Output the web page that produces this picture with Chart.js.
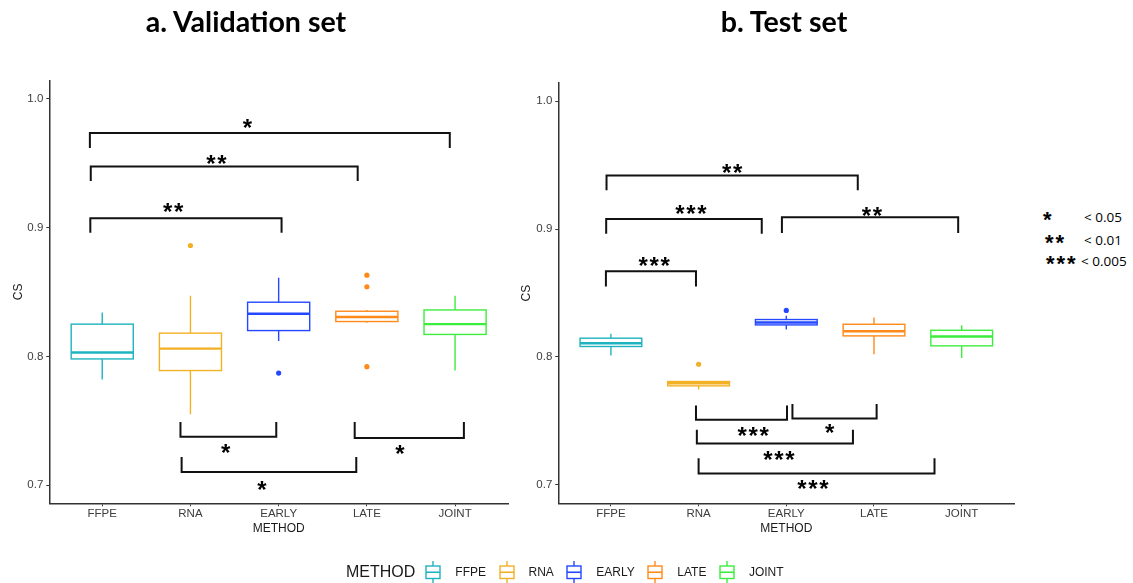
<!DOCTYPE html>
<html><head><meta charset="utf-8">
<script src="https://cdn.jsdelivr.net/npm/chart.js@4/dist/chart.umd.min.js"></script>
<style>
html,body{margin:0;padding:0;background:#fff;}
body{width:1133px;height:583px;position:relative;overflow:hidden;font-family:"Liberation Sans",Arial,sans-serif;}
canvas{position:absolute;top:0;}
#c1{left:0;}
#c2{left:505px;}
.ptitle{position:absolute;top:3px;font-family:Lato,"Open Sans",sans-serif;font-weight:700;font-size:28.6px;line-height:36px;color:#000;white-space:nowrap;transform:translateX(-50%);}
#legend{position:absolute;left:346px;top:561px;height:22px;display:flex;align-items:center;white-space:nowrap;}
#legend .lt{font-size:16px;color:#1a1a1a;margin-right:10px;}
#legend svg{display:block;margin-right:14px;}
#legend .li{font-size:12px;color:#1a1a1a;margin-right:12.5px;}
.key{position:absolute;white-space:nowrap;}
.kstar{font-family:"Liberation Sans";font-weight:700;font-size:22px;letter-spacing:2px;line-height:22px;}
.ktext{font-family:"Open Sans";font-size:13.5px;line-height:16px;color:#000;}
</style></head>
<body>
<canvas id="c1" width="515" height="583"></canvas>
<canvas id="c2" width="515" height="583"></canvas>
<div class="ptitle" id="t1" style="left:246px;">a. Validation set</div>
<div class="ptitle" id="t2" style="left:784px;">b. Test set</div>
<div id="legend"></div>
<div id="keybox"></div>
<script>
const categories = ['FFPE','RNA','EARLY','LATE','JOINT'];
const colors = ['#1fb3bf','#f2b124','#2448ff','#ff8a1a','#3ded3d'];
const yTicks = [0.7, 0.8, 0.9, 1.0];

// a. Validation set
const valWhiskerLow  = [0.782, 0.755, 0.812, 0.826, 0.789];
const valQ1          = [0.798, 0.789, 0.820, 0.827, 0.817];
const valMedian      = [0.803, 0.806, 0.833, 0.8305, 0.825];
const valQ3          = [0.825, 0.818, 0.842, 0.835, 0.836];
const valWhiskerHigh = [0.834, 0.847, 0.861, 0.836, 0.847];
const valOutlierCat  = [1, 2, 3, 3, 3];
const valOutlierVal  = [0.886, 0.787, 0.863, 0.854, 0.792];
const valBracketFrom  = [-0.14, -0.13, -0.135, 0.887, 2.862, 0.90];
const valBracketTo    = [3.94, 2.896, 2.033, 1.973, 4.10, 2.88];
const valBracketBar   = [0.9733, 0.9473, 0.9072, 0.7377, 0.7367, 0.7103];
const valBracketEnd   = [0.9617, 0.9361, 0.8958, 0.749, 0.749, 0.722];
const valBracketStars = [1, 2, 2, 1, 1, 1];
const valLabelX       = [1.645, 1.294, 0.803, 1.399, 3.376, 1.81];
const valLabelY       = [0.9804, 0.9527, 0.9155, 0.7284, 0.7281, 0.6998];

// b. Test set
const testWhiskerLow  = [0.801, 0.7744, 0.8214, 0.802, 0.7992];
const testQ1          = [0.8081, 0.7773, 0.825, 0.8164, 0.8086];
const testMedian      = [0.8107, 0.7793, 0.8269, 0.820, 0.8159];
const testQ3          = [0.8146, 0.7807, 0.8292, 0.8255, 0.8208];
const testWhiskerHigh = [0.818, 0.7812, 0.8321, 0.8308, 0.8248];
const testOutlierCat  = [1, 2];
const testOutlierVal  = [0.7942, 0.8363];
const testBracketFrom  = [-0.05, -0.054, 1.95, -0.057, 0.97, 2.07, 0.98, 1.0];
const testBracketTo    = [2.815, 1.72, 3.96, 0.97, 2.008, 3.03, 2.76, 3.69];
const testBracketBar   = [0.942, 0.9078, 0.9092, 0.867, 0.7507, 0.7517, 0.7321, 0.7088];
const testBracketEnd   = [0.9303, 0.8964, 0.8969, 0.855, 0.7619, 0.7632, 0.743, 0.7206];
const testBracketStars = [2, 3, 2, 3, 3, 1, 3, 3];
const testLabelX       = [1.382, 0.911, 2.976, 0.493, 1.621, 2.494, 1.917, 2.304];
const testLabelY       = [0.9472, 0.9151, 0.914, 0.8749, 0.7415, 0.7436, 0.7227, 0.6998];

const keyStars = ['*', '**', '***'];
const keyLabels = ['< 0.05', '< 0.01', '< 0.005'];

function drawStars(ctx, cx, cy, n) {
  ctx.save();
  ctx.font = 'bold 24px "Liberation Sans"';
  ctx.fillStyle = '#000';
  ctx.textAlign = 'center';
  ctx.textBaseline = 'alphabetic';
  const m = ctx.measureText('*');
  const off = (m.actualBoundingBoxAscent - m.actualBoundingBoxDescent) / 2;
  const pitch = 11;
  for (let k = 0; k < n; k++) {
    const x = cx + (k - (n - 1) / 2) * pitch;
    ctx.fillText('*', x, cy + off);
  }
  ctx.restore();
}

function boxPlugin(stats, brackets) {
  return {
    id: 'boxes',
    beforeDatasetsDraw(chart) {
      const {ctx, scales: {x, y}} = chart;
      const half = 0.352;
      ctx.save();
      for (let i = 0; i < categories.length; i++) {
        const xc = x.getPixelForValue(i);
        const xl = x.getPixelForValue(i - half);
        const xr = x.getPixelForValue(i + half);
        const yLo = y.getPixelForValue(stats.lo[i]);
        const yQ1 = y.getPixelForValue(stats.q1[i]);
        const yMed = y.getPixelForValue(stats.med[i]);
        const yQ3 = y.getPixelForValue(stats.q3[i]);
        const yHi = y.getPixelForValue(stats.hi[i]);
        ctx.strokeStyle = colors[i];
        ctx.lineWidth = 1.4;
        ctx.beginPath();
        ctx.moveTo(xc, yHi); ctx.lineTo(xc, yQ3);
        ctx.moveTo(xc, yQ1); ctx.lineTo(xc, yLo);
        ctx.stroke();
        ctx.fillStyle = '#fff';
        ctx.fillRect(xl, yQ3, xr - xl, yQ1 - yQ3);
        ctx.strokeRect(xl, yQ3, xr - xl, yQ1 - yQ3);
        ctx.lineWidth = 2.4;
        ctx.beginPath();
        ctx.moveTo(xl, yMed); ctx.lineTo(xr, yMed);
        ctx.stroke();
      }
      ctx.restore();
    },
    afterDatasetsDraw(chart) {
      const {ctx, scales: {x, y}} = chart;
      ctx.save();
      ctx.strokeStyle = '#111';
      ctx.lineWidth = 2;
      ctx.lineJoin = 'miter';
      for (let k = 0; k < brackets.from.length; k++) {
        const x1 = x.getPixelForValue(brackets.from[k]);
        const x2 = x.getPixelForValue(brackets.to[k]);
        const yb = y.getPixelForValue(brackets.bar[k]);
        const ye = y.getPixelForValue(brackets.end[k]);
        ctx.beginPath();
        ctx.moveTo(x1, ye); ctx.lineTo(x1, yb); ctx.lineTo(x2, yb); ctx.lineTo(x2, ye);
        ctx.stroke();
        drawStars(ctx, x.getPixelForValue(brackets.lx[k]), y.getPixelForValue(brackets.ly[k]), brackets.stars[k]);
      }
      ctx.restore();
    }
  };
}

function makeChart(id, stats, brackets, outCat, outVal, yMin, yMax, top, padRight, yAxisWidth, yTitlePad) {
  const tickFont = {family: '"Liberation Sans", Arial, sans-serif', size: 11.5};
  const titleFont = {family: '"Liberation Sans", Arial, sans-serif', size: 12};
  return new Chart(document.getElementById(id), {
    type: 'scatter',
    data: {
      datasets: [{
        data: outCat.map((c, k) => ({x: c, y: outVal[k]})),
        backgroundColor: outCat.map(c => colors[c]),
        borderWidth: 0,
        pointRadius: 2.6,
        pointHoverRadius: 2.6
      }]
    },
    options: {
      responsive: false,
      animation: false,
      events: [],
      layout: {padding: {top: top, right: padRight, bottom: 39.7, left: 0}},
      plugins: {legend: {display: false}, tooltip: {enabled: false}, title: {display: false}},
      scales: {
        x: {
          type: 'linear', min: -0.6, max: 4.6,
          afterBuildTicks: s => { s.ticks = categories.map((c, i) => ({value: i})); },
          afterFit: s => { s.height = 40; },
          ticks: {callback: v => categories[Math.round(v)], font: tickFont, color: '#3d3d3d', padding: 1, maxRotation: 0, autoSkip: false},
          grid: {drawOnChartArea: false, drawTicks: true, tickLength: 3, color: '#333', lineWidth: 1},
          border: {display: true, color: '#333', width: 1.5},
          title: {display: true, text: 'METHOD', font: titleFont, color: '#1a1a1a', padding: {top: 0, bottom: 7.5}}
        },
        y: {
          type: 'linear', min: yMin, max: yMax,
          afterBuildTicks: s => { s.ticks = yTicks.map(v => ({value: v})); },
          afterFit: s => { s.width = yAxisWidth; },
          ticks: {callback: v => v.toFixed(1), font: tickFont, color: '#3d3d3d', padding: 3},
          grid: {drawOnChartArea: false, drawTicks: true, tickLength: 3, color: '#333', lineWidth: 1},
          border: {display: true, color: '#333', width: 1.5},
          title: {display: true, text: 'CS', font: titleFont, color: '#1a1a1a', padding: {top: yTitlePad, bottom: 0}}
        }
      }
    },
    plugins: [boxPlugin(stats, brackets)]
  });
}

makeChart('c1',
  {lo: valWhiskerLow, q1: valQ1, med: valMedian, q3: valQ3, hi: valWhiskerHigh},
  {from: valBracketFrom, to: valBracketTo, bar: valBracketBar, end: valBracketEnd, stars: valBracketStars, lx: valLabelX, ly: valLabelY},
  valOutlierCat, valOutlierVal, 0.686, 1.014, 80.5, 7, 49.3, 11);

makeChart('c2',
  {lo: testWhiskerLow, q1: testQ1, med: testMedian, q3: testQ3, hi: testWhiskerHigh},
  {from: testBracketFrom, to: testBracketTo, bar: testBracketBar, end: testBracketEnd, stars: testBracketStars, lx: testLabelX, ly: testLabelY},
  testOutlierCat, testOutlierVal, 0.6854, 1.0143, 83, 5.7, 53.3, 14.5);

// legend
const legend = document.getElementById('legend');
const lt = document.createElement('span'); lt.className = 'lt'; lt.textContent = 'METHOD'; legend.appendChild(lt);
categories.forEach((c, i) => {
  const ns = 'http://www.w3.org/2000/svg';
  const svg = document.createElementNS(ns, 'svg');
  svg.setAttribute('width', '16'); svg.setAttribute('height', '22');
  const col = colors[i];
  svg.innerHTML = `<line x1="8" y1="0" x2="8" y2="5" stroke="${col}" stroke-width="1.4"/>` +
    `<rect x="1" y="5" width="14" height="12.5" fill="#fff" stroke="${col}" stroke-width="1.4"/>` +
    `<line x1="1" y1="11.25" x2="15" y2="11.25" stroke="${col}" stroke-width="1.6"/>` +
    `<line x1="8" y1="17.5" x2="8" y2="22" stroke="${col}" stroke-width="1.4"/>`;
  legend.appendChild(svg);
  const li = document.createElement('span'); li.className = 'li'; li.textContent = c; legend.appendChild(li);
});

// significance key
const keybox = document.getElementById('keybox');
const keyRowsY = [218, 241, 262];
const keyStarX = [1043, 1045, 1046];
const keyTextX = [1084, 1084, 1081];
keyStars.forEach((s, k) => {
  const st = document.createElement('div'); st.className = 'key kstar'; st.textContent = s;
  st.style.left = keyStarX[k] + 'px'; st.style.top = (keyRowsY[k] - 9) + 'px';
  keybox.appendChild(st);
  const tx = document.createElement('div'); tx.className = 'key ktext'; tx.textContent = keyLabels[k];
  tx.style.left = keyTextX[k] + 'px'; tx.style.top = (keyRowsY[k] - 9) + 'px';
  keybox.appendChild(tx);
});
</script>
</body></html>
